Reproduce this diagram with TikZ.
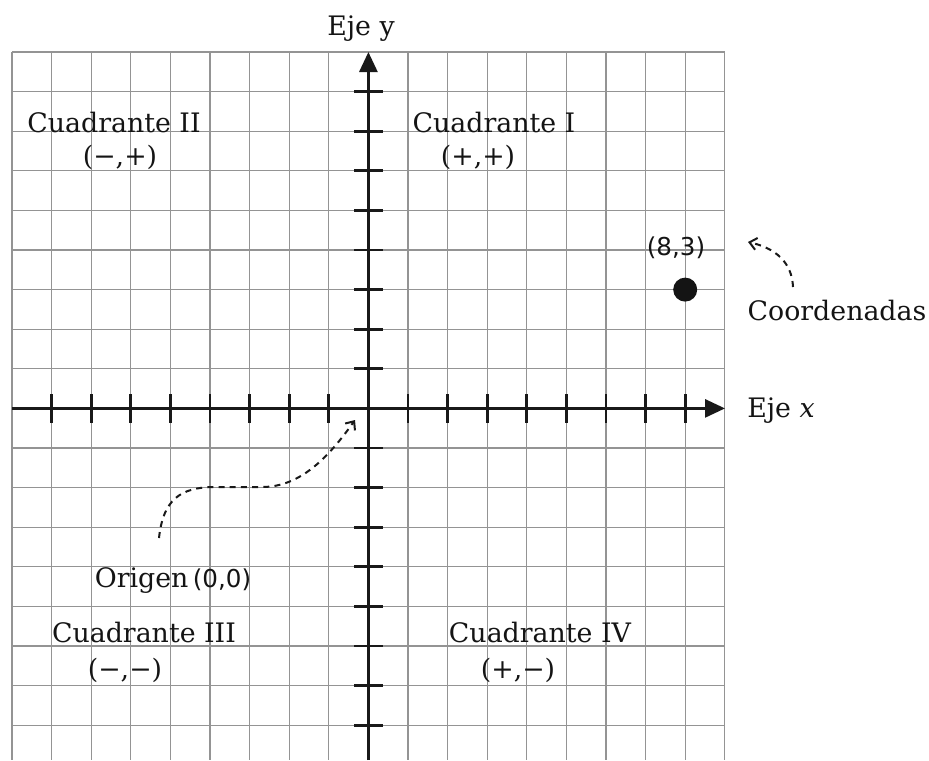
\documentclass[tikz,border=0pt]{standalone}
\usepackage{fontspec}
\setmainfont{DejaVu Serif}
\newfontfamily\labsans{DejaVu Sans}
\usetikzlibrary{arrows.meta}
\begin{document}
\begin{tikzpicture}[x=0.5pt,y=-0.5pt,
  gridline/.style={draw=black!42, line width=0.6pt},
  axis/.style={draw=black!90, line width=1.4pt},
  tickmark/.style={draw=black!90, line width=1.4pt},
  lab/.style={font=\fontsize{13.4}{15}\selectfont, text=black!92, inner sep=0pt, anchor=base},
  sanslab/.style={font=\labsans\fontsize{12.3}{14}\selectfont},
  pointer/.style={draw=black!90, line width=1pt, dash pattern=on 3pt off 2.6pt,
     -{Straight Barb[length=3.5pt,width=6pt,line width=1pt]}}]
\useasboundingbox (0,0) rectangle (929,760);
% grid
\foreach \i in {0,...,18} \draw[gridline] ({12+39.6*\i},52) -- ({12+39.6*\i},760);
\foreach \j in {0,...,17} \draw[gridline] (12,{52+39.6*\j}) -- (724.8,{52+39.6*\j});
% axes
\coordinate (ybot) at (368.4,760);
\coordinate (ytop) at (368.4,52);
\coordinate (xleft) at (12,408.4);
\coordinate (xright) at (725,408.4);
\draw[axis,-{Triangle[length=10pt,width=9pt]}] (ybot) -- (ytop);
\draw[axis,-{Triangle[length=10pt,width=9pt]}] (xleft) -- (xright);
% ticks
\foreach \k in {1,...,8,10,11,...,17} {
  \draw[tickmark] (354,{52+39.6*\k}) -- (383,{52+39.6*\k});
  \draw[tickmark] ({12+39.6*\k},394) -- ({12+39.6*\k},423);
}
% point (8,3)
\node[circle, fill=black!92, minimum size=12pt, inner sep=0pt] (dot) at (685.2,289.6) {};
% labels
\node[lab] (ejey) at (361,35) {Eje y};
\node[lab] (ejex) at (781,417) {Eje \textit{x}};
\node[lab] (q2) at (114,132) {Cuadrante II};
\node[lab] (q2s) at (120,165) {(−,+)};
\node[lab] (q1) at (494,132) {Cuadrante I};
\node[lab] (q1s) at (478,165) {(+,+)};
\node[lab] (q3) at (144,642) {Cuadrante III};
\node[lab] (q3s) at (125,678) {(−,−)};
\node[lab] (q4) at (540,642) {Cuadrante IV};
\node[lab] (q4s) at (518,678) {(+,−)};
\node[lab, sanslab] (p83) at (676,255) {(8,3)};
\node[lab] (coord) at (837,320) {Coordenadas};
\node[lab] (orig) at (173,587) {Origen\,{\labsans\fontsize{12.3}{14}\selectfont(0,0)}};
% pointers
\coordinate (os) at (159,538);
\coordinate (oe) at (355,420);
\coordinate (cs) at (793,287);
\coordinate (ce) at (748,242);
\draw[pointer] (os) .. controls (163,500) and (180,487) .. (215,487) -- (262,487) .. controls (300,487) and (328,458) .. (oe);
\draw[pointer] (cs) .. controls (792,262) and (775,248) .. (ce);
\end{tikzpicture}
\end{document}
